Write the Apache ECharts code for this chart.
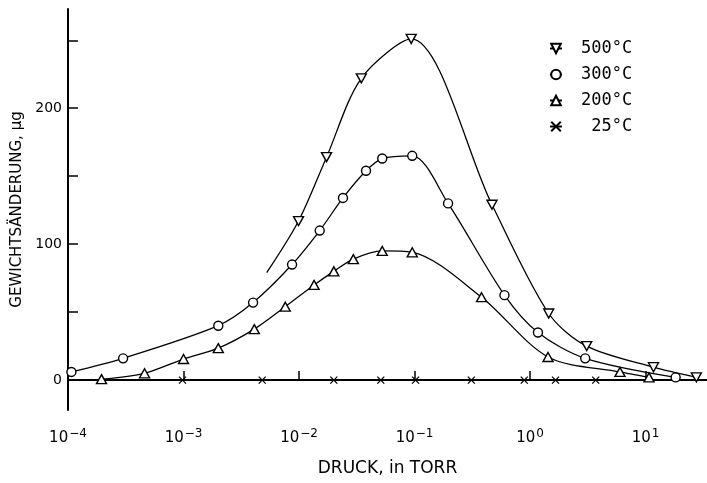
<!DOCTYPE html>
<html>
<head>
<meta charset="utf-8">
<script src="https://cdn.jsdelivr.net/npm/echarts@6/dist/echarts.min.js"></script>
<style>
html, body { margin: 0; padding: 0; background: #fff; }
#main { width: 707px; height: 483px; }
</style>
</head>
<body>
<div id="main"></div>
<script>
// Druck in Torr, Gewichtsänderung in µg
var p500 = [0.0099, 0.0173, 0.0346, 0.0935, 0.468, 1.45, 3.09, 11.7, 27.5];
var w500 = [117, 164, 222, 251, 129, 49, 25, 9.5, 2];
var p300 = [1.07e-4, 3.0e-4, 0.0020, 0.0040, 0.0087, 0.0151, 0.024, 0.038, 0.0525, 0.0955, 0.195, 0.60, 1.17, 3.0, 18.2];
var w300 = [6, 16, 40, 57, 85, 110, 134, 154, 163, 165, 130, 62.5, 35, 16, 2];
var p200 = [1.95e-4, 4.6e-4, 0.0010, 0.0020, 0.0041, 0.0076, 0.0135, 0.020, 0.0295, 0.0525, 0.0955, 0.38, 1.43, 6.0, 10.7];
var w200 = [0.7, 5, 15.5, 23.5, 37.5, 54, 70, 80, 89, 95, 94, 61, 17, 6, 2];
var p25 = [9.8e-4, 0.0048, 0.020, 0.051, 0.102, 0.31, 0.89, 1.66, 3.7];
var w25 = [0, 0, 0, 0, 0, 0, 0, 0, 0];
// where the drawn curves run on without a measured point
var start500 = [0.00525, 79];
var ends25 = [[1.2e-4, 0], [8.9, 0]];

var names = ['500°C', '300°C', '200°C', '25°C'];
var yTicks = [0, 50, 100, 150, 200, 250];
var yLabels = [0, 100, 200];

function pairs(px, py) {
	var res = [];
	for (var i = 0; i < px.length; i++) res.push([px[i], py[i]]);
	return res;
}
function bare(pt) {
	return { value: pt, symbol: 'none' };
}

var d500 = [bare(start500)].concat(pairs(p500, w500));
var d25 = [bare(ends25[0])].concat(pairs(p25, w25), [bare(ends25[1])]);

var dom = document.getElementById('main');
var myChart = echarts.init(dom);
var font = 'DejaVu Sans';
var sym = { color: '#fff', borderColor: '#000', borderWidth: 1.4 };
var ln = { color: '#000', width: 1.3 };

var option = {
	backgroundColor: '#fff',
	animation: false,
	grid: { left: 68, right: 0, top: 9, bottom: 73, containLabel: false, outerBoundsMode: 'none' },
	legend: {
		orient: 'vertical',
		left: 544,
		top: 35,
		itemGap: 9,
		itemWidth: 12,
		itemHeight: 12,
		data: names,
		formatter: function (n) {
			return (n.length < 5 ? '\u00a0' : '') + n;
		},
		textStyle: { fontFamily: 'DejaVu Sans Mono', fontSize: 17, color: '#000', padding: [0, 0, 0, 14] }
	},
	xAxis: {
		type: 'log',
		logBase: 10,
		min: 1e-4,
		max: 34,
		splitNumber: 6,
		name: 'DRUCK, in TORR',
		nameLocation: 'middle',
		nameGap: 50,
		nameTextStyle: { fontFamily: font, fontSize: 17, color: '#000' },
		axisLine: { lineStyle: { color: '#000', width: 2 } },
		axisTick: { inside: true, length: 9, lineStyle: { color: '#000', width: 1.5 } },
		splitLine: { show: false },
		minorTick: { show: false },
		axisLabel: {
			margin: 18,
			showMaxLabel: false,
			formatter: function (v) {
				var e = Math.round(Math.log(v) / Math.LN10);
				return '10{s|' + (e < 0 ? '\u2212' + (-e) : e) + '}';
			},
			rich: {
				s: { fontFamily: font, fontSize: 12, color: '#000', verticalAlign: 'top', padding: [0, 0, 8, 1] }
			},
			fontFamily: font,
			fontSize: 15,
			color: '#000'
		}
	},
	yAxis: {
		type: 'value',
		min: -22,
		max: 273,
		name: 'GEWICHTSÄNDERUNG, µg',
		nameLocation: 'middle',
		nameGap: 43,
		nameRotate: 90,
		nameTextStyle: { fontFamily: font, fontSize: 15, color: '#000' },
		axisLine: { show: true, lineStyle: { color: '#000', width: 2 } },
		axisTick: { inside: true, length: 10, customValues: yTicks, lineStyle: { color: '#000', width: 1.5 } },
		splitLine: { show: false },
		axisLabel: { customValues: yLabels, margin: 6, fontFamily: font, fontSize: 14, color: '#000' }
	},
	series: [
		{
			name: names[0], type: 'line', smooth: 0.3,
			symbol: 'path://M0,0L10,0L5,9Z', symbolSize: [10, 9],
			data: d500, itemStyle: sym, lineStyle: ln, z: 4
		},
		{
			name: names[1], type: 'line', smooth: 0.3,
			symbol: 'circle', symbolSize: 9,
			data: pairs(p300, w300), itemStyle: sym, lineStyle: ln, z: 3
		},
		{
			name: names[2], type: 'line', smooth: 0.3,
			symbol: 'path://M5,0L10,9L0,9Z', symbolSize: [10, 9],
			data: pairs(p200, w200), itemStyle: sym, lineStyle: ln, z: 2
		},
		{
			name: names[3], type: 'line', smooth: false,
			symbol: 'path://M0,0L10,10M10,0L0,10', symbolSize: 7,
			data: d25, itemStyle: { color: '#000', borderColor: '#000', borderWidth: 1.3 }, lineStyle: ln, z: 1
		}
	]
};
myChart.setOption(option);
</script>
</body>
</html>
